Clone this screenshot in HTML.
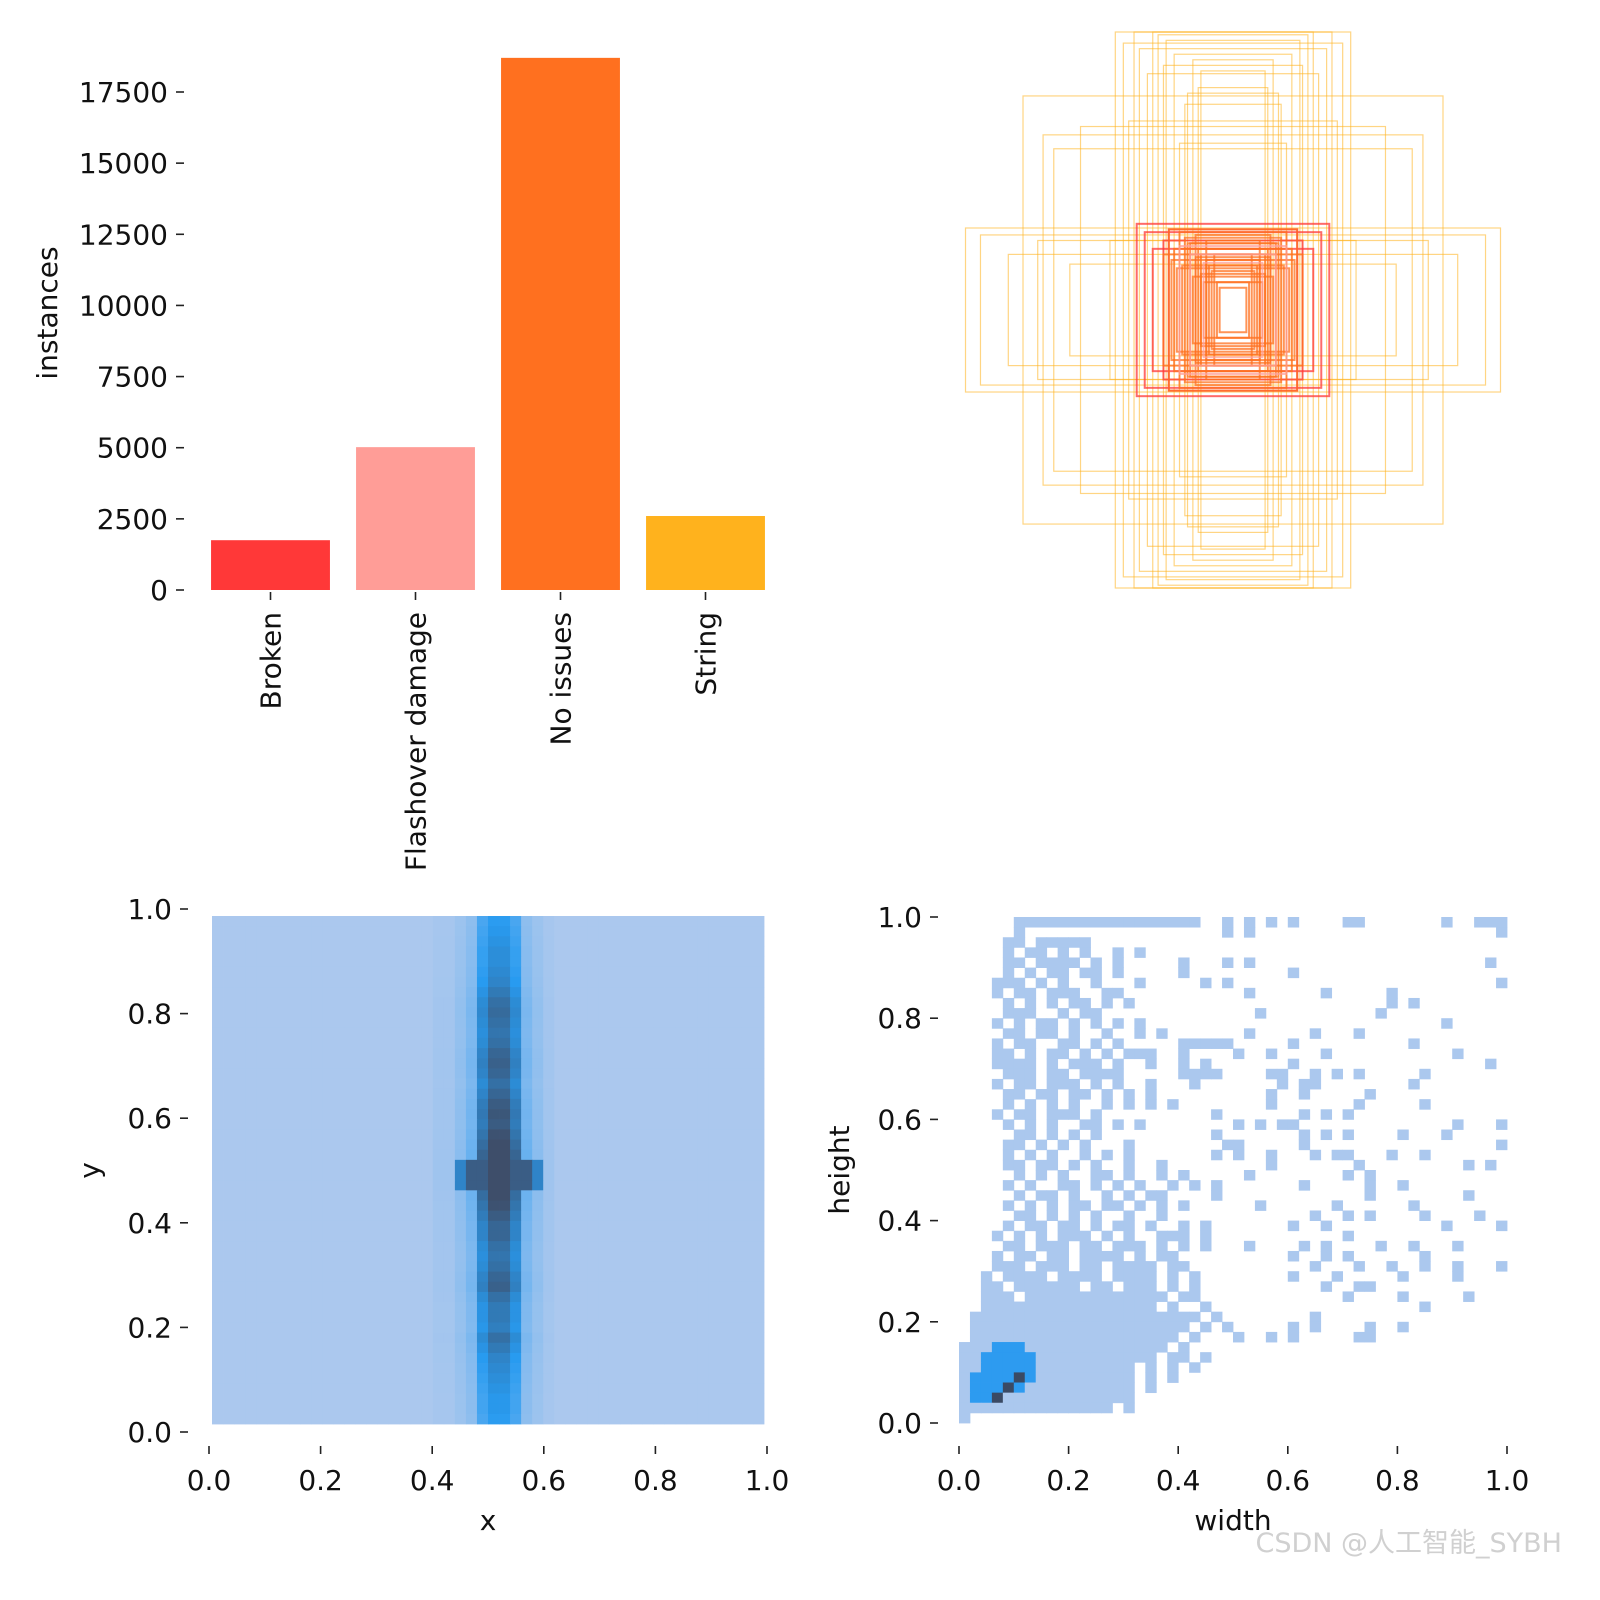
<!DOCTYPE html>
<html><head><meta charset="utf-8"><style>
html,body{margin:0;padding:0;background:#fff;}
svg{display:block;font-family:"DejaVu Sans","Liberation Sans","Noto Sans CJK SC",sans-serif;}
</style></head><body>
<svg id="root" width="1600" height="1600" viewBox="0 0 1600 1600">
<g id="bar"></g>
<g id="boxes"></g>
<g id="xy"></g>
<g id="wh"></g>
<text x="1562" y="1552" text-anchor="end" font-size="27" fill="#d0d0d0">CSDN @人工智能_SYBH</text>
</svg>
<script>
// ---------- data ----------
const barCategories = ["Broken","Flashover damage","No issues","String"];
const barValues = [1750, 5020, 18700, 2600];
const barColors = ["#FF3838","#FF9D97","#FF701F","#FFB21D"];
const barTicks = [0,2500,5000,7500,10000,12500,15000,17500];

const boxClass = [3,3,3,3,3,3,3,3,3,3,3,3,3,3,3,3,3,3,3,3,3,3,3,3,3,3,3,0,0,0,0,0,2,2,2,2,2,2,2,2,2,2,2,2,2,2,2,2,2,2,2,2,2,2,2,2,1,1,1];
const boxW = [1.0,0.944,0.61,0.73,0.44,0.37,0.30,0.25,0.41,0.22,0.15,0.785,0.71,0.57,0.67,0.39,0.18,0.13,0.84,0.46,0.32,0.20,0.26,0.35,0.28,0.12,0.17,0.36,0.33,0.26,0.30,0.24,0.24,0.20,0.18,0.22,0.16,0.14,0.12,0.10,0.09,0.08,0.26,0.23,0.19,0.15,0.11,0.06,0.05,0.13,0.17,0.21,0.10,0.07,0.14,0.12,0.20,0.16,0.11];
const boxH = [0.295,0.27,0.165,0.25,1.0,1.0,1.0,0.97,0.96,0.92,0.90,0.77,0.63,0.66,0.58,0.68,0.74,0.80,0.20,0.25,0.85,0.60,0.88,0.94,0.99,0.86,0.78,0.31,0.28,0.25,0.22,0.29,0.29,0.28,0.26,0.22,0.24,0.27,0.20,0.18,0.16,0.14,0.20,0.18,0.16,0.12,0.10,0.10,0.08,0.22,0.24,0.15,0.25,0.20,0.19,0.13,0.23,0.20,0.17];
const boxStroke = ["#FF3838","#FF9D97","#FF701F","#FFB21D"];

const xyColDensity = [1,1,1,1,1,1,1,1,1,1,1,1,1,1,1,1,1,1,1,1,1.05,1.05,1.15,1.3,2.0,2.3,2.3,2.0,1.3,1.15,1.05,1,1,1,1,1,1,1,1,1,1,1,1,1,1,1,1,1,1,1];
const xyRowDensity = [0.75,0.8,0.85,0.9,0.9,0.95,1.0,1.1,1.2,1.25,1.2,1.15,1.2,1.3,1.35,1.3,1.2,1.3,1.4,1.45,1.4,1.5,1.6,1.7,1.8,1.8,1.7,1.6,1.5,1.4,1.3,1.3,1.2,1.15,1.2,1.3,1.35,1.2,1.1,1.1,1.05,1.2,1.1,1.0,0.95,0.9,0.85,0.8,0.8,0.75];

const whRows = [
".....11111111111111111..1.1.1.1....11.......1..111",
".....1..................1.1......................1",
"....11.11111......................................",
"....1.11.1.1..1.1.................................",
"....11.1111.1.1.....1...1.1.....................1.",
"....1.1.11.11.1.....1.........1...................",
"...111.1.1..1...1.....1.1........................1",
"...1.11.111..11...........1......1.....1..........",
"....1.1.1.11.1.1.......................1.1........",
"....111..1.11..............1..........1...........",
"...1.1.11.1.1.1.1...........................1.....",
"....11.11.1..1..1.1.......1.....1...1.............",
"...1.11..11.1.1.....11111.....1..........1........",
"...11.1.11.1.1.111..1....1..1....1...........1....",
"...1111.1.111.1..1..1.1.......1.................1.",
"....111.11.1111.....1111....11..1.1.1.....1.......",
"...1.11.111.1.1..1...1.......1.11........1........",
"....11.11.11.1.1.1..........1..1.....1............",
"....1.1.1.1..1.1.1.1........1.......1.....1.......",
"...1.11.111.1..........1.......1.1.1..............",
"....1.1.1..11.1.1........1.1.11..............1...1",
".....11.1.1.1..........1.......1.1.1....1...1.....",
"....11.1.1.1...1........11.....1.................1",
"....1.1.1..1.1.1.......1.1..1...1.11...1..1.......",
"....11.11.1.1..1..1.........1.......1.........1.1.",
".....1.1.1..11.1..1.1.....1........1.1............",
"....1.1..11.1.1.1..1.1.1.......1.....1..1.........",
".....1.11.1..1.1.11....1.............1........1...",
"....1.1.1.11.11.1.1.1......1......1......1........",
".....11.1.1.1..1..1.............1..1.1....1....1..",
"....1.11.11.1.11.1..1.1.......1..1..........1....1",
"...1.1.1.111.1.1..111.1............1..............",
"....11.111.11.111.1.1.1...1....1.1....1..1...1....",
"...1.11.11.1111.1.11..........1..1.1......1.......",
"...111.111.11.1111.11...........1...1..1..1..1...1",
"..1.1111.1111.1111.1.1........1...1.....1....1....",
"..11.111111.11.111.1.1...........1..11............",
"..111.1111111111111.11.............1....1.....1...",
"..1111111111111111.1..1...................1.......",
".111111111111111111111.1........1.................",
".11111111111111111111.1.1.....1.1....1..1.........",
".1111111111111111111.1...1..1.1.....11............",
"1112221111111111111.1.............................",
"112222211111111111.11.1...........................",
"1122222111111111.1.1.1............................",
"1222232111111111.1.1..............................",
"1222321111111111.1................................",
"1223111111111111..................................",
"11111111111111.1..................................",
"1................................................."
];
const histTicks = ["0.0","0.2","0.4","0.6","0.8","1.0"];

const NS="http://www.w3.org/2000/svg";
function mk(tag,attrs,parent){const e=document.createElementNS(NS,tag);for(const k in attrs)e.setAttribute(k,attrs[k]);parent.appendChild(e);return e;}
const FS=28;

(function(){
 const g=document.getElementById('bar');
 const y0=590, yPer=(590-92)/17500;
 const yS=v=>y0-v*yPer;
 const xL=198, xR=778, band=(xR-xL)/barCategories.length, bw=band*0.82;
 barTicks.forEach(t=>{
   const y=yS(t);
   const tk=mk('line',{x1:176,x2:184,y1:y,y2:y,stroke:'#222','stroke-width':1.6},g);
   
   
   const tx=mk('text',{x:168,y:y+10,'text-anchor':'end','font-size':FS,fill:'#111'},g);
   
   
   tx.textContent=t;
 });
 barCategories.forEach((c,i)=>{
   const cx=xL+band*(i+0.5);
   const r=mk('rect',{x:cx-bw/2,y:yS(barValues[i]),width:bw,height:y0-yS(barValues[i]),fill:barColors[i]},g);
   
   
   const tk=mk('line',{x1:cx,x2:cx,y1:592,y2:600,stroke:'#222','stroke-width':1.6},g);
   
   
   const tx=mk('text',{x:0,y:0,'text-anchor':'end','font-size':FS,fill:'#111',transform:`translate(${cx+10},612) rotate(-90)`},g);
   
   
   tx.textContent=c;
 });
 const yl=mk('text',{x:0,y:0,'text-anchor':'middle','font-size':FS,fill:'#111',transform:'translate(57,313) rotate(-90)'},g);
 
 
 yl.textContent='instances';
})();

(function(){
 const g=document.getElementById('boxes');
 const cx=1233, cy=310, W=535, H=556;
 boxClass.forEach((c,i)=>{
   const w=boxW[i]*W, h=boxH[i]*H;
   const big=c===3;
   const r=mk('rect',{x:cx-w/2,y:cy-h/2,width:w,height:h,fill:'none',stroke:boxStroke[c],'stroke-width':big?1.2:2,'stroke-opacity':big?0.55:0.75},g);
   
   
 });
})();

function lerp(a,b,t){return a.map((v,i)=>Math.round(v+(b[i]-v)*t));}
function colorFor(v){
 const L=[171,200,238],M=[40,155,240],D=[62,78,106];
 let c;
 if(v<=1)c=L;else if(v<=2)c=lerp(L,M,v-1);else c=lerp(M,D,Math.min(1,v-2));
 return `rgb(${c[0]},${c[1]},${c[2]})`;
}
function axes(g,x0,x1,y0,y1,xt,yt){
 histTicks.forEach((t,i)=>{
  const f=i/5;
  const x=x0+(x1-x0)*f, y=y0+(y1-y0)*f;
  const a=mk('line',{x1:x,x2:x,y1:1446,y2:1454,stroke:'#222','stroke-width':1.6},g);
  
  
  const b=mk('text',{x:x,y:1490,'text-anchor':'middle','font-size':FS,fill:'#111'},g);
  
  
  b.textContent=t;
  const c=mk('line',{x1:x0-29,x2:x0-21,y1:y,y2:y,stroke:'#222','stroke-width':1.6},g);
  
  
  const d=mk('text',{x:x0-37,y:y+10,'text-anchor':'end','font-size':FS,fill:'#111'},g);
  
  
  d.textContent=t;
 });
 const xl=mk('text',{x:(x0+x1)/2,y:1530,'text-anchor':'middle','font-size':FS,fill:'#111'},g);
 
 
 xl.textContent=xt;
 const yl=mk('text',{x:0,y:0,'text-anchor':'middle','font-size':FS,fill:'#111',transform:`translate(${x0-110},${(y0+y1)/2}) rotate(-90)`},g);
 
 
 yl.textContent=yt;
}

(function(){
 const g=document.getElementById('xy');
 const x0=209,x1=767,y0=1432,y1=909;
 const cl=212, cr=764, ct=916, cb=1424;
 const cw=(cr-cl)/50, ch=(cb-ct)/50;
 for(let r=0;r<50;r++)for(let c=0;c<50;c++){
   let v=1+(xyColDensity[c]-1)*xyRowDensity[r];
   if(r>=24&&r<=26&&c>=22&&c<=29)v=Math.max(v,(c===22||c===29)?2.3:2.8);
   if(r>=23&&r<=27&&(c===25||c===26))v=Math.max(v,3);
   const e=mk('rect',{x:cl+c*cw,y:ct+r*ch,width:cw+0.4,height:ch+0.4,fill:colorFor(v)},g);
   
   
 }
 axes(g,x0,x1,y0,y1,'x','y');
})();

(function(){
 const g=document.getElementById('wh');
 const x0=959,x1=1507,y0=1423,y1=917;
 const cw=(x1-x0)/50, ch=(y0-y1)/50;
 const cols={'1':'rgb(171,200,238)','2':'rgb(45,155,240)','3':'rgb(58,74,100)'};
 whRows.forEach((row,r)=>{
  for(let c=0;c<row.length&&c<50;c++){
   const ch0=row[c]; if(!cols[ch0])continue;
   const e=mk('rect',{x:x0+c*cw,y:y1+r*ch,width:cw+0.4,height:ch+0.4,fill:cols[ch0]},g);
   
   
  }
 });
 axes(g,x0,x1,y0,y1,'width','height');
})();
</script>
</body></html>
